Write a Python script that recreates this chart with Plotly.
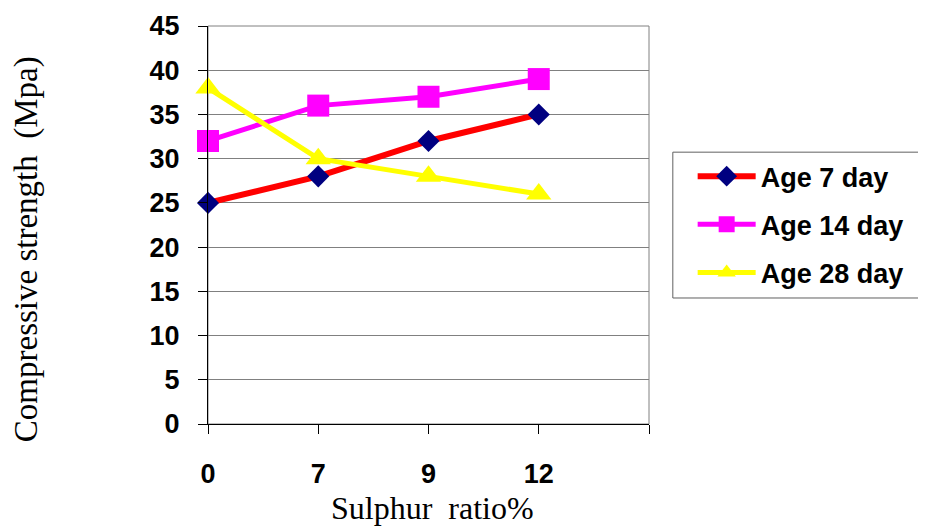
import plotly.graph_objects as go

categories = ["0", "7", "9", "12"]
age7 = [25, 28, 32, 35]
age14 = [32, 36, 37, 39]
age28 = [38, 30, 28, 26]
y_ticks = [0, 5, 10, 15, 20, 25, 30, 35, 40, 45]

xpos = list(range(len(categories)))

fig = go.Figure()
fig.add_trace(go.Scatter(
    x=xpos, y=age7, name="Age 7 day", mode="lines+markers", legendgroup="a",
    line=dict(color="#FF0000", width=6), cliponaxis=False,
    marker=dict(symbol="diamond", size=17, color="#000080")))
fig.add_trace(go.Scatter(
    x=xpos, y=age14, name="Age 14 day", mode="lines+markers", legendgroup="b",
    line=dict(color="#FF00FF", width=5), cliponaxis=False,
    marker=dict(symbol="square", size=22, color="#FF00FF")))
fig.add_trace(go.Scatter(
    x=xpos, y=age28, name="Age 28 day", mode="lines+markers", legendgroup="c",
    line=dict(color="#FFFF00", width=5), cliponaxis=False,
    marker=dict(symbol="triangle-up", size=22, color="#FFFF00")))

fig.update_layout(
    width=926, height=527,
    margin=dict(l=200, r=285, t=18, b=111, autoexpand=False),
    plot_bgcolor="white", paper_bgcolor="white",
    font=dict(family="Liberation Sans", color="black"),
    showlegend=True,
    legend=dict(
        x=1.099, xanchor="left", y=0.683, yanchor="top",
        font=dict(family="Liberation Sans", size=27, color="black", weight="bold"),
        borderwidth=0, bordercolor="rgba(0,0,0,0)", bgcolor="rgba(0,0,0,0)",
        tracegroupgap=10, itemwidth=58,
    ),
    xaxis=dict(
        range=[0, len(categories)],
        tickvals=list(range(len(categories) + 1)),
        ticktext=categories + [""],
        ticks="outside", ticklen=9, tickcolor="black", tickwidth=1,
        showline=True, linecolor="black", linewidth=1,
        showgrid=False, zeroline=False, automargin=False,
        tickfont=dict(family="Liberation Sans", size=27, weight="bold"),
        ticklabelstandoff=17,
    ),
    yaxis=dict(
        range=[0, 45], tickvals=y_ticks,
        ticks="outside", ticklen=9, tickcolor="black", tickwidth=1,
        showline=True, linecolor="black", linewidth=1,
        showgrid=True, gridcolor="#808080", gridwidth=1, zeroline=False, automargin=False,
        tickfont=dict(family="Liberation Sans", size=27, weight="bold"),
        ticklabelstandoff=13,
    ),
    annotations=[
        dict(text="Sulphur  ratio%", xref="paper", yref="paper", x=0.508, y=-0.211,
             xanchor="center", yanchor="middle", showarrow=False,
             font=dict(family="Liberation Serif", size=32, color="black")),
        dict(text="Compressive strength  (Mpa)", xref="paper", yref="paper", x=-0.41, y=0.4397,
             xanchor="center", yanchor="middle", showarrow=False, textangle=-90,
             font=dict(family="Liberation Serif", size=33, color="black")),
    ],
    shapes=[
        dict(type="rect", xref="paper", yref="paper", x0=0, x1=1, y0=0, y1=1,
             line=dict(color="#808080", width=1), layer="below"),
        dict(type="path", xref="paper", yref="paper",
             path="M 1.62,0.683 L 1.054,0.683 L 1.054,0.3166 L 1.62,0.3166",
             line=dict(color="#606060", width=1), layer="above"),
    ],
)

fig.write_html("out.html")
